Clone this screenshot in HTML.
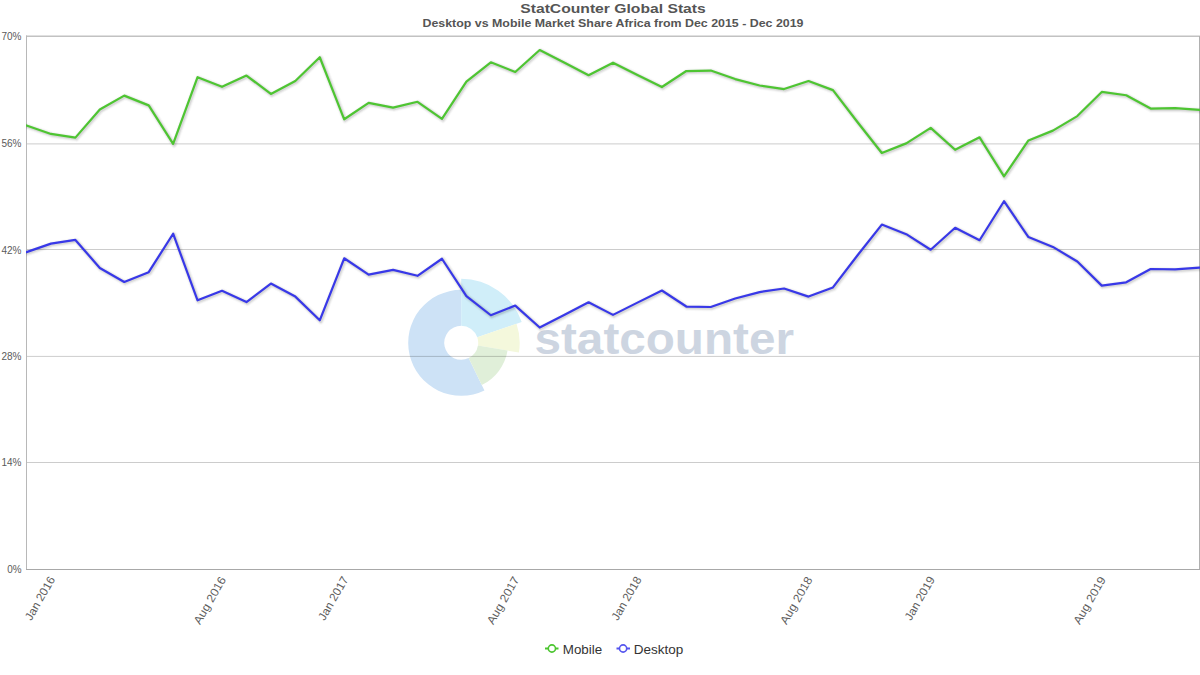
<!DOCTYPE html>
<html><head><meta charset="utf-8"><style>
html,body{margin:0;padding:0;background:#fff;}
svg{display:block;}
text{font-family:"Liberation Sans",sans-serif;}
</style></head><body>
<svg width="1200" height="675" viewBox="0 0 1200 675">
<rect width="1200" height="675" fill="#fff"/>
<g><path fill="#cde2f6" d="M484.43 390.44 A53 53 0 1 1 461.20 289.80 L461.20 325.80 A17 17 0 1 0 468.65 358.08 Z"/><path fill="#d0eef9" d="M461.20 278.80 A64 64 0 0 1 521.71 321.96 L477.27 337.27 A17 17 0 0 0 461.20 325.80 Z"/><path fill="#f4f8dc" d="M516.51 323.75 A58.5 58.5 0 0 1 518.90 352.46 L477.97 345.61 A17 17 0 0 0 477.27 337.27 Z"/><path fill="#e0efd9" d="M507.56 350.56 A47 47 0 0 1 481.80 385.04 L468.65 358.08 A17 17 0 0 0 477.97 345.61 Z"/></g>
<text x="534.5" y="354" font-size="45" font-weight="bold" fill="#cdd5e1" textLength="259.5" lengthAdjust="spacingAndGlyphs">statcounter</text>

<line x1="26" y1="36.3" x2="1200" y2="36.3" stroke="#c2c2c2" stroke-width="1.5"/>
<line x1="1199.5" y1="36" x2="1199.5" y2="570" stroke="#b0b0b0" stroke-width="1"/>
<line x1="26.5" y1="35.5" x2="26.5" y2="570" stroke="#b8b8b8" stroke-width="1"/>
<line x1="26" y1="569.5" x2="1200" y2="569.5" stroke="#a8a8a8" stroke-width="1"/>
<g stroke="#000" stroke-opacity="0.2" stroke-width="1" fill="none"><line x1="27" y1="143.9" x2="1199" y2="143.9" /><line x1="27" y1="249.5" x2="1199" y2="249.5" /><line x1="27" y1="356.4" x2="1199" y2="356.4" /><line x1="27" y1="462.5" x2="1199" y2="462.5" /></g>
<defs><clipPath id="pc"><rect x="26" y="30" width="1174" height="545"/></clipPath></defs>
<g fill="none" stroke-linejoin="round" stroke-linecap="round" clip-path="url(#pc)">
<g transform="translate(1,1)" stroke="#000">
<path d="M26.50 125.49 L50.94 133.93 L75.38 137.63 L99.81 109.58 L124.25 95.64 L148.69 105.38 L173.12 143.84 L197.56 77.24 L222.00 86.78 L246.44 75.53 L270.88 93.99 L295.31 80.99 L319.75 57.23 L344.19 119.28 L368.62 102.89 L393.06 107.69 L417.50 101.79 L441.94 118.83 L466.38 81.53 L490.81 62.34 L515.25 71.98 L539.69 50.03 L564.12 62.59 L588.56 75.23 L613.00 62.68 L637.44 74.94 L661.88 87.03 L686.31 71.03 L710.75 70.58 L735.19 79.08 L759.62 85.48 L784.06 89.04 L808.50 80.99 L832.94 90.14 L857.38 122.03 L881.81 152.98 L906.25 143.38 L930.69 127.83 L955.12 149.78 L979.56 137.33 L1004.00 176.33 L1028.44 140.49 L1052.88 130.63 L1077.31 116.09 L1101.75 91.94 L1126.19 95.23 L1150.62 108.58 L1175.06 108.14 L1199.50 109.88" stroke-opacity="0.025" stroke-width="7"/><path d="M26.50 125.49 L50.94 133.93 L75.38 137.63 L99.81 109.58 L124.25 95.64 L148.69 105.38 L173.12 143.84 L197.56 77.24 L222.00 86.78 L246.44 75.53 L270.88 93.99 L295.31 80.99 L319.75 57.23 L344.19 119.28 L368.62 102.89 L393.06 107.69 L417.50 101.79 L441.94 118.83 L466.38 81.53 L490.81 62.34 L515.25 71.98 L539.69 50.03 L564.12 62.59 L588.56 75.23 L613.00 62.68 L637.44 74.94 L661.88 87.03 L686.31 71.03 L710.75 70.58 L735.19 79.08 L759.62 85.48 L784.06 89.04 L808.50 80.99 L832.94 90.14 L857.38 122.03 L881.81 152.98 L906.25 143.38 L930.69 127.83 L955.12 149.78 L979.56 137.33 L1004.00 176.33 L1028.44 140.49 L1052.88 130.63 L1077.31 116.09 L1101.75 91.94 L1126.19 95.23 L1150.62 108.58 L1175.06 108.14 L1199.50 109.88" stroke-opacity="0.05" stroke-width="5"/><path d="M26.50 125.49 L50.94 133.93 L75.38 137.63 L99.81 109.58 L124.25 95.64 L148.69 105.38 L173.12 143.84 L197.56 77.24 L222.00 86.78 L246.44 75.53 L270.88 93.99 L295.31 80.99 L319.75 57.23 L344.19 119.28 L368.62 102.89 L393.06 107.69 L417.50 101.79 L441.94 118.83 L466.38 81.53 L490.81 62.34 L515.25 71.98 L539.69 50.03 L564.12 62.59 L588.56 75.23 L613.00 62.68 L637.44 74.94 L661.88 87.03 L686.31 71.03 L710.75 70.58 L735.19 79.08 L759.62 85.48 L784.06 89.04 L808.50 80.99 L832.94 90.14 L857.38 122.03 L881.81 152.98 L906.25 143.38 L930.69 127.83 L955.12 149.78 L979.56 137.33 L1004.00 176.33 L1028.44 140.49 L1052.88 130.63 L1077.31 116.09 L1101.75 91.94 L1126.19 95.23 L1150.62 108.58 L1175.06 108.14 L1199.50 109.88" stroke-opacity="0.08" stroke-width="3"/>
<path d="M26.50 252.09 L50.94 243.63 L75.38 239.94 L99.81 267.99 L124.25 281.94 L148.69 272.18 L173.12 233.74 L197.56 300.34 L222.00 290.78 L246.44 302.03 L270.88 283.59 L295.31 296.59 L319.75 320.33 L344.19 258.28 L368.62 274.69 L393.06 269.88 L417.50 275.78 L441.94 258.74 L466.38 296.03 L490.81 315.24 L515.25 305.59 L539.69 327.53 L564.12 314.99 L588.56 302.34 L613.00 314.88 L637.44 302.63 L661.88 290.53 L686.31 306.53 L710.75 306.99 L735.19 298.49 L759.62 292.08 L784.06 288.53 L808.50 296.59 L832.94 287.44 L857.38 255.53 L881.81 224.58 L906.25 234.19 L930.69 249.73 L955.12 227.78 L979.56 240.23 L1004.00 201.23 L1028.44 237.09 L1052.88 246.93 L1077.31 261.49 L1101.75 285.63 L1126.19 282.34 L1150.62 268.99 L1175.06 269.44 L1199.50 267.69" stroke-opacity="0.025" stroke-width="7"/><path d="M26.50 252.09 L50.94 243.63 L75.38 239.94 L99.81 267.99 L124.25 281.94 L148.69 272.18 L173.12 233.74 L197.56 300.34 L222.00 290.78 L246.44 302.03 L270.88 283.59 L295.31 296.59 L319.75 320.33 L344.19 258.28 L368.62 274.69 L393.06 269.88 L417.50 275.78 L441.94 258.74 L466.38 296.03 L490.81 315.24 L515.25 305.59 L539.69 327.53 L564.12 314.99 L588.56 302.34 L613.00 314.88 L637.44 302.63 L661.88 290.53 L686.31 306.53 L710.75 306.99 L735.19 298.49 L759.62 292.08 L784.06 288.53 L808.50 296.59 L832.94 287.44 L857.38 255.53 L881.81 224.58 L906.25 234.19 L930.69 249.73 L955.12 227.78 L979.56 240.23 L1004.00 201.23 L1028.44 237.09 L1052.88 246.93 L1077.31 261.49 L1101.75 285.63 L1126.19 282.34 L1150.62 268.99 L1175.06 269.44 L1199.50 267.69" stroke-opacity="0.05" stroke-width="5"/><path d="M26.50 252.09 L50.94 243.63 L75.38 239.94 L99.81 267.99 L124.25 281.94 L148.69 272.18 L173.12 233.74 L197.56 300.34 L222.00 290.78 L246.44 302.03 L270.88 283.59 L295.31 296.59 L319.75 320.33 L344.19 258.28 L368.62 274.69 L393.06 269.88 L417.50 275.78 L441.94 258.74 L466.38 296.03 L490.81 315.24 L515.25 305.59 L539.69 327.53 L564.12 314.99 L588.56 302.34 L613.00 314.88 L637.44 302.63 L661.88 290.53 L686.31 306.53 L710.75 306.99 L735.19 298.49 L759.62 292.08 L784.06 288.53 L808.50 296.59 L832.94 287.44 L857.38 255.53 L881.81 224.58 L906.25 234.19 L930.69 249.73 L955.12 227.78 L979.56 240.23 L1004.00 201.23 L1028.44 237.09 L1052.88 246.93 L1077.31 261.49 L1101.75 285.63 L1126.19 282.34 L1150.62 268.99 L1175.06 269.44 L1199.50 267.69" stroke-opacity="0.08" stroke-width="3"/>
</g>
<path d="M26.50 125.49 L50.94 133.93 L75.38 137.63 L99.81 109.58 L124.25 95.64 L148.69 105.38 L173.12 143.84 L197.56 77.24 L222.00 86.78 L246.44 75.53 L270.88 93.99 L295.31 80.99 L319.75 57.23 L344.19 119.28 L368.62 102.89 L393.06 107.69 L417.50 101.79 L441.94 118.83 L466.38 81.53 L490.81 62.34 L515.25 71.98 L539.69 50.03 L564.12 62.59 L588.56 75.23 L613.00 62.68 L637.44 74.94 L661.88 87.03 L686.31 71.03 L710.75 70.58 L735.19 79.08 L759.62 85.48 L784.06 89.04 L808.50 80.99 L832.94 90.14 L857.38 122.03 L881.81 152.98 L906.25 143.38 L930.69 127.83 L955.12 149.78 L979.56 137.33 L1004.00 176.33 L1028.44 140.49 L1052.88 130.63 L1077.31 116.09 L1101.75 91.94 L1126.19 95.23 L1150.62 108.58 L1175.06 108.14 L1199.50 109.88" stroke="#4ec532" stroke-width="2.2"/>
<path d="M26.50 252.09 L50.94 243.63 L75.38 239.94 L99.81 267.99 L124.25 281.94 L148.69 272.18 L173.12 233.74 L197.56 300.34 L222.00 290.78 L246.44 302.03 L270.88 283.59 L295.31 296.59 L319.75 320.33 L344.19 258.28 L368.62 274.69 L393.06 269.88 L417.50 275.78 L441.94 258.74 L466.38 296.03 L490.81 315.24 L515.25 305.59 L539.69 327.53 L564.12 314.99 L588.56 302.34 L613.00 314.88 L637.44 302.63 L661.88 290.53 L686.31 306.53 L710.75 306.99 L735.19 298.49 L759.62 292.08 L784.06 288.53 L808.50 296.59 L832.94 287.44 L857.38 255.53 L881.81 224.58 L906.25 234.19 L930.69 249.73 L955.12 227.78 L979.56 240.23 L1004.00 201.23 L1028.44 237.09 L1052.88 246.93 L1077.31 261.49 L1101.75 285.63 L1126.19 282.34 L1150.62 268.99 L1175.06 269.44 L1199.50 267.69" stroke="#3838e8" stroke-width="2.2"/>
</g>
<g font-size="10.3" fill="#5a5a5a"><text x="21.5" y="40.4" text-anchor="end" textLength="20.0" lengthAdjust="spacingAndGlyphs">70%</text><text x="21.5" y="147.3" text-anchor="end" textLength="20.0" lengthAdjust="spacingAndGlyphs">56%</text><text x="21.5" y="253.7" text-anchor="end" textLength="20.0" lengthAdjust="spacingAndGlyphs">42%</text><text x="21.5" y="360.3" text-anchor="end" textLength="20.0" lengthAdjust="spacingAndGlyphs">28%</text><text x="21.5" y="466.4" text-anchor="end" textLength="20.0" lengthAdjust="spacingAndGlyphs">14%</text><text x="21.5" y="573.2" text-anchor="end" textLength="14.28" lengthAdjust="spacingAndGlyphs">0%</text></g>
<g font-size="11.6" fill="#5e5e5e"><text x="55.44" y="579.4" text-anchor="end" textLength="48.45" lengthAdjust="spacingAndGlyphs" transform="rotate(-60 55.44 579.4)">Jan 2016</text><text x="226.50" y="579.4" text-anchor="end" textLength="52.97" lengthAdjust="spacingAndGlyphs" transform="rotate(-60 226.50 579.4)">Aug 2016</text><text x="348.69" y="579.4" text-anchor="end" textLength="48.45" lengthAdjust="spacingAndGlyphs" transform="rotate(-60 348.69 579.4)">Jan 2017</text><text x="519.75" y="579.4" text-anchor="end" textLength="52.97" lengthAdjust="spacingAndGlyphs" transform="rotate(-60 519.75 579.4)">Aug 2017</text><text x="641.94" y="579.4" text-anchor="end" textLength="48.45" lengthAdjust="spacingAndGlyphs" transform="rotate(-60 641.94 579.4)">Jan 2018</text><text x="813.00" y="579.4" text-anchor="end" textLength="52.97" lengthAdjust="spacingAndGlyphs" transform="rotate(-60 813.00 579.4)">Aug 2018</text><text x="935.19" y="579.4" text-anchor="end" textLength="48.45" lengthAdjust="spacingAndGlyphs" transform="rotate(-60 935.19 579.4)">Jan 2019</text><text x="1106.25" y="579.4" text-anchor="end" textLength="52.97" lengthAdjust="spacingAndGlyphs" transform="rotate(-60 1106.25 579.4)">Aug 2019</text></g>
<text x="613" y="13.1" text-anchor="middle" font-size="13.5" font-weight="bold" fill="#555" textLength="185.5" lengthAdjust="spacingAndGlyphs">StatCounter Global Stats</text>
<text x="613" y="27.3" text-anchor="middle" font-size="10.4" font-weight="bold" fill="#555" textLength="381" lengthAdjust="spacingAndGlyphs">Desktop vs Mobile Market Share Africa from Dec 2015 - Dec 2019</text>
<g>
<line x1="545" y1="648.5" x2="558.5" y2="648.5" stroke="#4bc52f" stroke-width="2"/>
<circle cx="551.9" cy="648.5" r="3.6" fill="#fff" stroke="#4bc52f" stroke-width="1.6"/>
<line x1="616.5" y1="648.5" x2="630" y2="648.5" stroke="#5555ee" stroke-width="2"/>
<circle cx="623.1" cy="648.5" r="3.6" fill="#fff" stroke="#5555ee" stroke-width="1.6"/>
<text x="562.8" y="653.6" font-size="12.3" fill="#333" textLength="39.36" lengthAdjust="spacingAndGlyphs">Mobile</text>
<text x="633.8" y="653.6" font-size="12.3" fill="#333" textLength="49.49" lengthAdjust="spacingAndGlyphs">Desktop</text>
</g>
</svg>
</body></html>
